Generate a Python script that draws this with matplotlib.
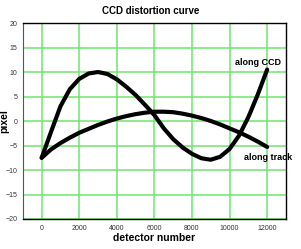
import matplotlib
matplotlib.use("Agg")
from matplotlib import pyplot as plt

plt.rcParams['font.family'] = ['Liberation Sans', 'DejaVu Sans']

detector = [0, 500, 1000, 1500, 2000, 2500, 3000, 3500, 4000, 4500, 5000, 5500,
            6000, 6500, 7000, 7500, 8000, 8500, 9000, 9500, 10000, 10500, 11000,
            11500, 12000]
along_ccd = [-7.5, -2.2, 3.0, 6.5, 8.6, 9.7, 10.0, 9.6, 8.5, 7.0, 5.3, 3.3,
             1.2, -1.5, -3.7, -5.4, -6.7, -7.6, -7.9, -7.3, -5.7, -3.0, 0.8,
             5.4, 10.5]
along_track = [-7.5, -5.8, -4.5, -3.4, -2.4, -1.6, -0.8, -0.1, 0.5, 1.0, 1.4, 1.7,
               1.9, 1.9, 1.8, 1.5, 1.1, 0.6, 0.0, -0.7, -1.5, -2.3, -3.2,
               -4.2, -5.3]
xticks = [0, 2000, 4000, 6000, 8000, 10000, 12000]
yticks = [-20, -15, -10, -5, 0, 5, 10, 15, 20]


def plot_curves():
    fig = plt.figure(figsize=(3.01, 2.49), dpi=100)
    ax = fig.add_axes([0.076, 0.1205, 0.874, 0.787])
    ax.plot(detector, along_ccd, color='black', linewidth=3.0,
            solid_capstyle='round', solid_joinstyle='round')
    ax.plot(detector, along_track, color='black', linewidth=3.0,
            solid_capstyle='round', solid_joinstyle='round')
    ax.set_xlim(-1000, 13000)
    ax.set_ylim(-20, 20)
    ax.set_xticks(xticks)
    ax.set_yticks(yticks)
    ax.tick_params(length=0, labelsize=5, colors='#333333', pad=4)
    ax.grid(color='#6ee66e', linewidth=1.1)
    ax.set_axisbelow(True)
    for side in ['top', 'right', 'bottom']:
        ax.spines[side].set_color('black')
        ax.spines[side].set_linewidth(1.0)
    ax.spines['left'].set_color('#555555')
    ax.spines['left'].set_linewidth(0.8)
    ax.text(11500, 12.0, 'along CCD', fontsize=6.5, fontweight='bold',
            ha='center', va='center')
    ax.text(12030, -7.35, 'along track', fontsize=6.5, fontweight='bold',
            ha='center', va='center', clip_on=False)
    ax.set_xlabel('detector number', fontsize=7.5, fontweight='bold', labelpad=1)
    ax.set_ylabel('pixel', fontsize=7.5, fontweight='bold')
    ax.yaxis.set_label_coords(-0.05, 0.5)
    fig.text(0.5, 0.955, 'CCD distortion curve', fontsize=7, fontweight='bold',
             ha='center', va='center')
    fig.savefig('out.png', dpi=100)


if __name__ == "__main__":
    plot_curves()
